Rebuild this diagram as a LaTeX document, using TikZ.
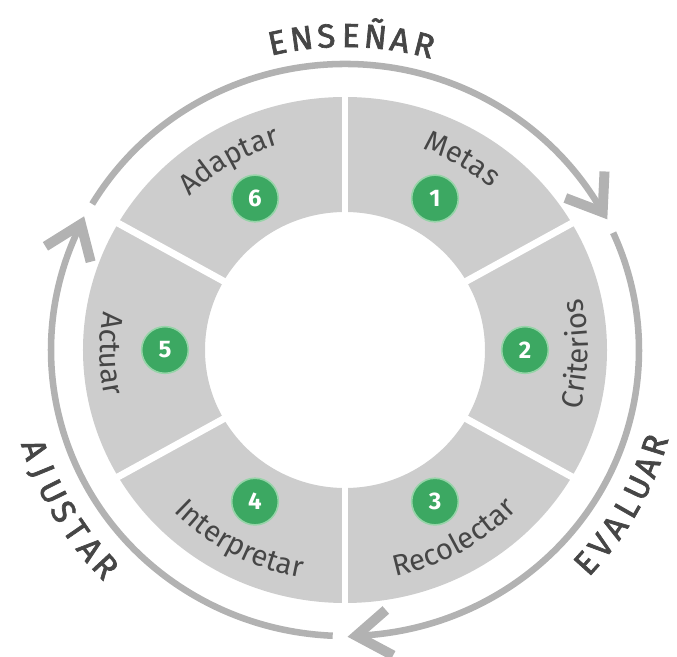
\documentclass[tikz,border=0pt]{standalone}
\usepackage{fontspec}
\setmainfont{Fira Sans}
\newfontfamily\outerfam[FakeBold=2]{Fira Sans}
\usetikzlibrary{decorations.text}

\definecolor{ringgray}{RGB}{205,205,205}
\definecolor{arcgray}{RGB}{178,178,178}
\definecolor{badgegreen}{RGB}{60,168,98}
\definecolor{badgerim}{RGB}{150,212,168}
\definecolor{labelgray}{RGB}{70,70,70}
\newcommand\segfont{\fontsize{22}{22}\selectfont\color{labelgray}}
\newcommand\cyclefont{\outerfam\fontsize{25}{25}\selectfont}

\begin{document}
\begin{tikzpicture}[x=0.75pt,y=0.75pt]
\tikzstyle{every node}+=[inner sep=0pt]
\tikzset{
  badge/.style={circle, fill=badgegreen, draw=badgerim, line width=1.2pt, minimum size=35pt, text=white, font=\fontsize{18}{18}\selectfont\bfseries},
  cyclearc/.style={draw=arcgray, line width=4.9pt},
  chevron/.style={draw=arcgray, line width=7.5pt, line join=miter},
  cyclelabel/.style={anchor=base, text=labelgray, font=\cyclefont},
  seglabel/.style={decorate, decoration={text along path, text align=center}}
}
\useasboundingbox (-345,-306) rectangle (332,350);
\fill [ringgray, even odd rule] (0,0) ellipse (262 and 253) (0,0) ellipse (140 and 138);
\foreach \a in {90,30,-30,-90,150,210}
  \draw [white, line width=5.2pt] (\a:130 and 128) -- (\a:275 and 266);
\node [badge] (b1) at (60:180 and 175) {1};
\node [badge] (b2) at (0:180 and 175) {2};
\node [badge] (b3) at (-60:180 and 175) {3};
\node [badge] (b4) at (-120:180 and 175) {4};
\node [badge] (b5) at (180:180 and 175) {5};
\node [badge] (b6) at (120:180 and 175) {6};
\path [seglabel, decoration={text={|\segfont|Metas}}] (95:222 and 215) arc [start angle=95, end angle=23, x radius=222, y radius=215];
\path [seglabel, decoration={text={|\segfont|Adaptar}}] (157:222 and 215) arc [start angle=157, end angle=85, x radius=222, y radius=215];
\path [seglabel, decoration={text={|\segfont|Criterios}}] (-36:243 and 236) arc [start angle=-36, end angle=34, x radius=243, y radius=236];
\path [seglabel, decoration={text={|\segfont|Actuar}}] (146:245 and 238) arc [start angle=146, end angle=216, x radius=245, y radius=238];
\path [seglabel, decoration={text={|\segfont|Recolectar}}] (-100:238 and 232) arc [start angle=-100, end angle=-21, x radius=238, y radius=232];
\path [seglabel, decoration={text={|\segfont|Interpretar}}] (202:238 and 232) arc [start angle=202, end angle=281, x radius=238, y radius=232];
\draw [cyclearc] (149.3:294 and 286) arc [start angle=149.3, end angle=29, x radius=294, y radius=286];
\draw [cyclearc] (24.2:294 and 286) arc [start angle=24.2, end angle=-88, x radius=294, y radius=286];
\draw [cyclearc] (267.6:294 and 286) arc [start angle=267.6, end angle=154, x radius=294, y radius=286];
\foreach \t in {28.8,-87.8,153.9}
  \draw [chevron] ({\t+6.5}:318 and 309) -- (\t:294 and 286) -- ({\t+6.5}:270 and 263);
\foreach \ch [count=\i] in {E,N,S,E,Ñ,A,R} {
  \pgfmathsetmacro\ang{102.1-4.38*(\i-1)}
  \node [cyclelabel, rotate=\ang-90] (ens\i) at (\ang:312 and 303) {\ch};
}
\foreach \ch [count=\i] in {E,V,A,L,U,A,R} {
  \pgfmathsetmacro\ang{-42+4.1*(\i-1)}
  \node [cyclelabel, rotate=\ang+90] (eva\i) at (\ang:336 and 330) {\ch};
}
\foreach \ch [count=\i] in {A,J,U,S,T,A,R} {
  \pgfmathsetmacro\ang{198.2+4.1*(\i-1)}
  \node [cyclelabel, rotate=\ang+90] (aju\i) at (\ang:338 and 330) {\ch};
}
\end{tikzpicture}
\end{document}
